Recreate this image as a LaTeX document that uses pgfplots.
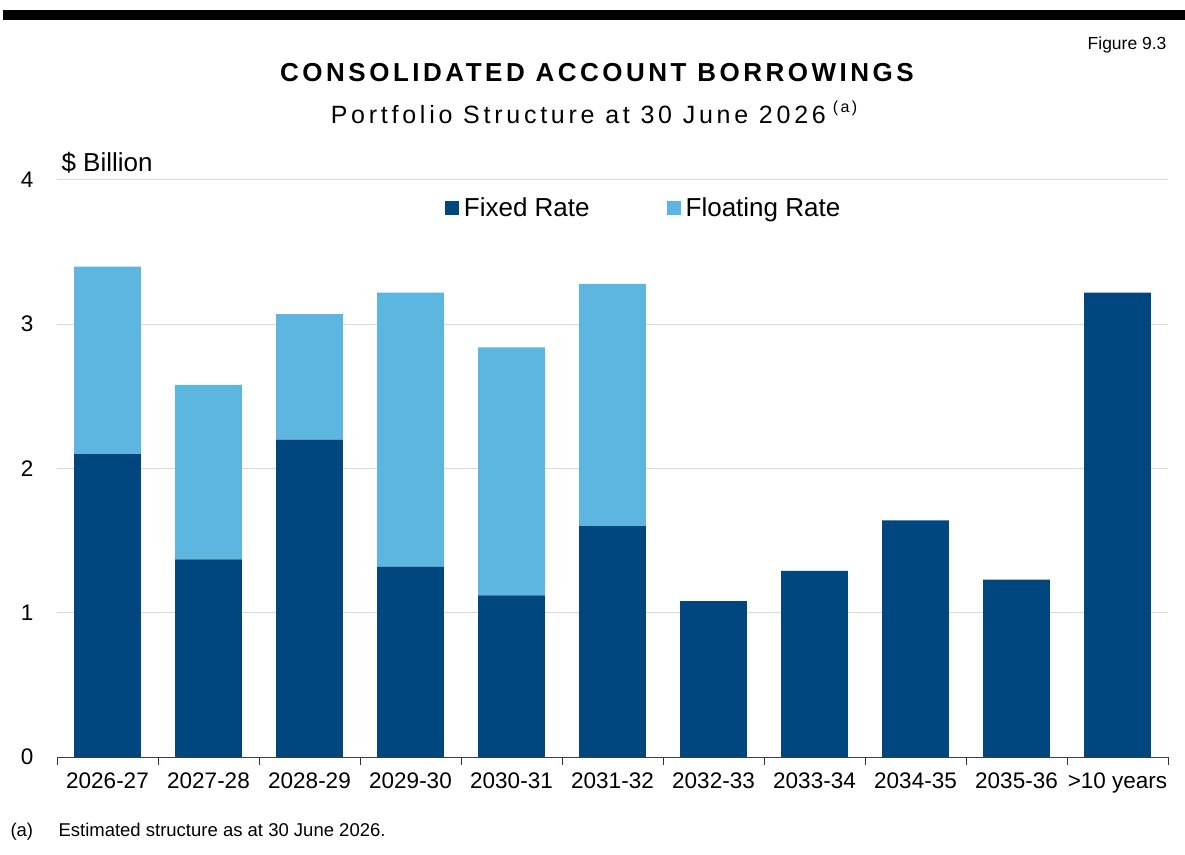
\documentclass[border=0pt]{standalone}
\usepackage{fontspec}
\setmainfont{Liberation Sans}
\usepackage{pgfplots}
\pgfplotsset{compat=1.18}
\definecolor{fixedc}{HTML}{00467F}
\definecolor{floatc}{HTML}{5CB6E0}
\definecolor{gridc}{HTML}{D9D9D9}
\begin{document}
\begin{tikzpicture}[x=1pt,y=1pt]
\path[use as bounding box] (0,0) rectangle (1185,854);
\fill[black] (3,834) rectangle (1185,844);
\node[anchor=east,font=\fontsize{17.5}{20}\selectfont] at (1170,809) {Figure 9.3};
\node[font=\fontsize{26}{30}\selectfont\bfseries\addfontfeature{LetterSpace=13.5}] at (597,781) {CONSOLIDATED ACCOUNT BORROWINGS};
\node[font=\fontsize{25}{29}\selectfont\addfontfeature{LetterSpace=15}] at (594,742) {Portfolio Structure at 30 June 2026\hspace{7pt}\raisebox{0.45em}{\fontsize{16}{18}\selectfont (a)}};
\node[anchor=west,font=\fontsize{26}{30}\selectfont] at (58,691) {\$ Billion};
\node[anchor=base west,font=\fontsize{18.5}{22}\selectfont] at (7,18) {(a)};
\node[anchor=base west,font=\fontsize{18.5}{22}\selectfont] at (55,18) {Estimated structure as at 30 June 2026.};
\begin{axis}[
  at={(107.5pt,97pt)}, anchor=origin, scale only axis,
  width=1111pt, height=577pt,
  ymin=0, ymax=4, xmin=-0.5, xmax=10.5,
  ybar stacked, bar width=0.66,
  axis x line=bottom, axis y line=left,
  y axis line style={draw=none},
  x axis line style={-, draw=black!75, line width=1pt},
  ymajorgrids, grid style={gridc, line width=1pt},
  ytick={0,1,2,3,4},
  ytick style={draw=none},
  xtick={0,...,10},
  xticklabels={2026-27,2027-28,2028-29,2029-30,2030-31,2031-32,2032-33,2033-34,2034-35,2035-36,>10 years},
  major x tick style={draw=none},
  minor xtick={-0.5,0.5,...,10.5},
  minor x tick style={draw=black!80, line width=1pt},
  minor tick length=8pt,
  xtick align=outside,
  tick label style={font=\fontsize{22.5}{26}\selectfont},
  /pgf/number format/assume math mode=true,
  yticklabel style={xshift=-18pt},
  xticklabel style={yshift=-8pt},
  legend style={at={(0.528,0.951)}, anchor=center, draw=none, fill=none,
    legend columns=2, font=\fontsize{26}{30}\selectfont,
    /tikz/every even column/.append style={column sep=75pt}},
  legend image code/.code={\fill[#1] (0pt,-7pt) rectangle (14pt,7pt); \path (17pt,0pt);},
]
\addplot[fill=fixedc, draw=none] coordinates {
(0,2.10) (1,1.37) (2,2.20) (3,1.32) (4,1.12) (5,1.60) (6,1.08) (7,1.29) (8,1.64) (9,1.23) (10,3.22)};
\addplot[fill=floatc, draw=none] coordinates {
(0,1.30) (1,1.21) (2,0.87) (3,1.90) (4,1.72) (5,1.68) (6,0) (7,0) (8,0) (9,0) (10,0)};
\legend{Fixed Rate, Floating Rate}
\end{axis}
\end{tikzpicture}
\end{document}
